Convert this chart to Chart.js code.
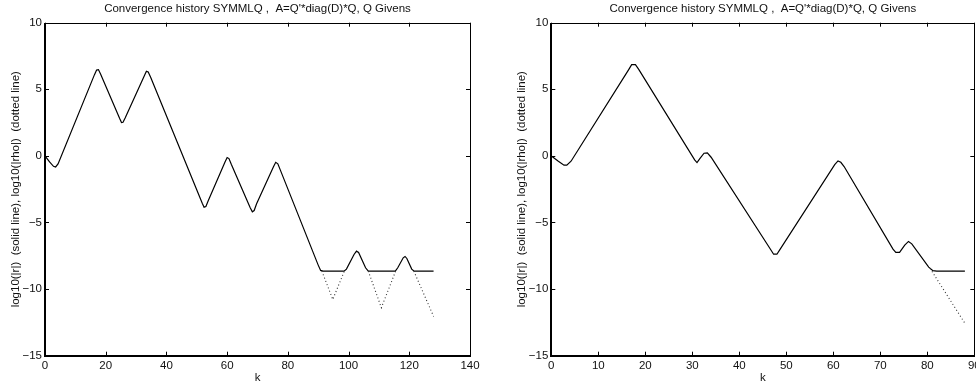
<!DOCTYPE html>
<html><head><meta charset="utf-8">
<script src="https://cdn.jsdelivr.net/npm/chart.js@4/dist/chart.umd.min.js"></script>
<style>
html,body{margin:0;padding:0;overflow:hidden;background:#fff;width:976px;height:385px;}
#c1{position:absolute;left:0;top:0;}
#c2{position:absolute;left:488px;top:0;}
</style></head><body>
<canvas id="c1" width="488" height="385"></canvas>
<canvas id="c2" width="520" height="385"></canvas>
<script>
// ---------- data ----------
const titleText = "Convergence history SYMMLQ ,  A=Q'*diag(D)*Q, Q Givens";
const yTitle = "log10(|r|)  (solid line), log10(|rho|)  (dotted line)";
const xTitle = "k";

const yTicks = [-15, -10, -5, 0, 5, 10];
const xTicksLeft = [0, 20, 40, 60, 80, 100, 120, 140];
const xTicksRight = [0, 10, 20, 30, 40, 50, 60, 70, 80, 90];

// left panel: solid line log10(|r|)
const kLeft = [0, 1.5, 2.8, 3.5, 4.3, 16.3, 17.0, 17.6, 18.3, 24.6, 25.2, 25.7, 26.4, 32.8, 33.4, 34.0, 34.8,
  51.8, 52.4, 53.0, 53.8, 59.3, 60.0, 60.6, 61.4, 67.6, 68.3, 68.9, 69.7, 75.3, 76.0, 76.7, 77.5,
  90.0, 90.8, 91.6, 98.5, 99.3, 101.8, 102.6, 103.3, 105.6, 106.5, 115.4, 116.2, 118.0, 118.6, 119.2,
  120.8, 121.6, 128];
const rLeft = [0, -0.45, -0.78, -0.83, -0.6, 6.1, 6.45, 6.48, 6.15, 2.8, 2.5, 2.52, 2.85, 6.05, 6.35, 6.3, 5.9,
  -3.55, -3.85, -3.8, -3.35, -0.45, -0.12, -0.2, -0.65, -3.9, -4.2, -4.1, -3.6, -0.8, -0.48, -0.6, -1.05,
  -8.2, -8.6, -8.65, -8.65, -8.5, -7.4, -7.15, -7.25, -8.4, -8.65, -8.65, -8.4, -7.65, -7.55, -7.7,
  -8.5, -8.65, -8.65];
// left panel: dotted line log10(|rho|) where it leaves the solid line (null = gap)
const kLeftRho = [91.2, 94.8, 98.6, 102, 106.5, 110.8, 115.5, 118, 121.5, 128];
const rhoLeft = [-8.65, -10.78, -8.65, null, -8.65, -11.4, -8.65, null, -8.65, -12.05];

// right panel: solid line log10(|r|)
const kRight = [0, 1.5, 2.7, 3.3, 4.2, 16.5, 17.1, 17.9, 18.6, 30.5, 31.0, 31.6, 32.5, 33.2, 34.0,
  46.8, 47.3, 48.0, 48.6, 60.3, 61.0, 61.6, 62.3, 72.7, 73.3, 74.1, 75.2, 76.0, 76.7, 80.3, 81.2, 82, 88];
const rRight = [0, -0.4, -0.7, -0.7, -0.4, 6.5, 6.85, 6.85, 6.5, -0.3, -0.5, -0.2, 0.2, 0.22, -0.1,
  -7.1, -7.38, -7.38, -7.05, -0.65, -0.38, -0.48, -0.8, -7.0, -7.25, -7.25, -6.7, -6.42, -6.6, -8.35, -8.62, -8.65, -8.65];
// right panel: dotted line log10(|rho|)
const kRightRho = [80.6, 88];
const rhoRight = [-8.45, -12.57];

// ---------- helpers ----------
const FONT = "'Liberation Sans', Arial, Helvetica, sans-serif";
const FS = 11.5;
const pts = (xs, ys) => xs.map((x, i) => ({x: x, y: ys[i]}));
const fmt = v => (v < 0 ? '\u2212' + Math.abs(v) : String(v));

const boxTicks = {
  id: 'boxTicks',
  afterDraw(chart) {
    const {ctx, chartArea: a, scales: {x, y}} = chart;
    const L = 4;
    ctx.save();
    ctx.strokeStyle = '#000';
    ctx.lineWidth = 1;
    ctx.beginPath();
    x.ticks.forEach(t => {
      const p = Math.round(x.getPixelForValue(t.value)) + 0.5;
      ctx.moveTo(p, a.bottom); ctx.lineTo(p, a.bottom - L);
      ctx.moveTo(p, a.top); ctx.lineTo(p, a.top + L);
    });
    y.ticks.forEach(t => {
      const p = Math.round(y.getPixelForValue(t.value)) + 0.5;
      ctx.moveTo(a.left, p); ctx.lineTo(a.left + L, p);
      ctx.moveTo(a.right, p); ctx.lineTo(a.right - L, p);
    });
    ctx.stroke();
    ctx.beginPath();
    ctx.moveTo(Math.round(a.left), Math.round(a.top) + 0.5);
    ctx.lineTo(Math.round(a.right) + 0.5, Math.round(a.top) + 0.5);
    ctx.lineTo(Math.round(a.right) + 0.5, Math.round(a.bottom));
    ctx.stroke();
    ctx.lineWidth = 2;
    ctx.beginPath();
    ctx.moveTo(Math.round(a.left), Math.round(a.top));
    ctx.lineTo(Math.round(a.left), Math.round(a.bottom));
    ctx.lineTo(Math.round(a.right) + 1, Math.round(a.bottom));
    ctx.stroke();
    ctx.restore();
  }
};

function makeChart(id, kS, rS, kD, rD, xTicks, yAxisWidth, padRight, yTitlePad) {
  return new Chart(document.getElementById(id), {
    type: 'line',
    data: {
      datasets: [
        {data: pts(kD, rD), borderColor: '#333', borderWidth: 1.1, borderDash: [1, 2.5], pointRadius: 0, spanGaps: false, tension: 0},
        {data: pts(kS, rS), borderColor: '#000', borderWidth: 1.2, pointRadius: 0, tension: 0}
      ]
    },
    options: {
      responsive: false,
      animation: false,
      events: [],
      layout: {padding: {left: 0, right: padRight, top: 0, bottom: 0}},
      plugins: {
        legend: {display: false},
        tooltip: {enabled: false},
        title: {display: true, text: titleText, fullSize: false, color: '#111',
          font: {family: FONT, size: FS, weight: 'normal'}, padding: {top: 1.5, bottom: 7.4}}
      },
      scales: {
        x: {
          type: 'linear', min: xTicks[0], max: xTicks[xTicks.length - 1],
          afterBuildTicks: s => { s.ticks = xTicks.map(v => ({value: v})); },
          afterFit: s => { s.height = 29.3; },
          grid: {display: false, drawTicks: false}, border: {display: false},
          ticks: {color: '#111', font: {family: FONT, size: FS}, padding: 3.5, maxRotation: 0, autoSkip: false, callback: fmt},
          title: {display: true, text: xTitle, color: '#111', font: {family: FONT, size: FS}, padding: {top: 0, bottom: 0}}
        },
        y: {
          type: 'linear', min: yTicks[0], max: yTicks[yTicks.length - 1],
          afterBuildTicks: s => { s.ticks = yTicks.map(v => ({value: v})); },
          afterFit: s => { s.width = yAxisWidth; },
          grid: {display: false, drawTicks: false}, border: {display: false},
          ticks: {color: '#111', font: {family: FONT, size: FS}, padding: 3, autoSkip: false, callback: fmt},
          title: {display: true, text: yTitle, color: '#111', font: {family: FONT, size: FS}, padding: {top: yTitlePad, bottom: 0}}
        }
      }
    },
    plugins: [boxTicks]
  });
}

makeChart('c1', kLeft, rLeft, kLeftRho, rhoLeft, xTicksLeft, 45, 18, 8.5);
makeChart('c2', kRight, rRight, kRightRho, rhoRight, xTicksRight, 63.3, 33.7, 26.5);
</script>
</body></html>
